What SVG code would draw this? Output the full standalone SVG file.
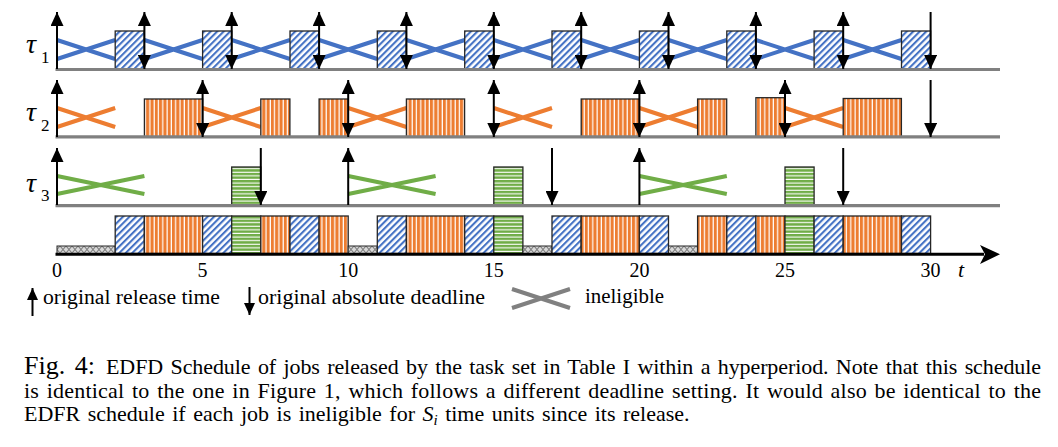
<svg xmlns="http://www.w3.org/2000/svg" width="1058" height="447" viewBox="0 0 1058 447">
<defs>
<pattern id="pBlue" patternUnits="userSpaceOnUse" width="4.6" height="4.6" patternTransform="rotate(45)">
<rect width="4.6" height="4.6" fill="#fff"/><rect width="2.1" height="4.6" fill="#4472C4"/>
</pattern>
<pattern id="pOrange" patternUnits="userSpaceOnUse" width="4.3" height="10">
<rect width="4.3" height="10" fill="#ED7D31"/><rect x="3.1" width="1.2" height="10" fill="#fff"/>
</pattern>
<pattern id="pGreen" patternUnits="userSpaceOnUse" width="10" height="3.6">
<rect width="10" height="3.6" fill="#70AD47"/><rect y="2.5" width="10" height="1.1" fill="#fff"/>
</pattern>
<pattern id="pIdle" patternUnits="userSpaceOnUse" width="6" height="7" x="0" y="246">
<rect width="6" height="7" fill="#d9d9d9"/><path d="M0,0 L6,7 M0,7 L6,0" stroke="#7f7f7f" stroke-width="1.1"/>
</pattern>
<marker id="ah" markerUnits="userSpaceOnUse" markerWidth="14" markerHeight="13" refX="14" refY="6.5" orient="auto-start-reverse">
<path d="M0,0 L14,6.5 L0,13 z" fill="#000"/>
</marker>
<marker id="ahs" markerUnits="userSpaceOnUse" markerWidth="12" markerHeight="11" refX="12" refY="5.5" orient="auto-start-reverse">
<path d="M0,0 L12,5.5 L0,11 z" fill="#000"/>
</marker>
</defs>
<style>
.b{fill:url(#pBlue);stroke:#262626;stroke-width:1.3}
.o{fill:url(#pOrange);stroke:#262626;stroke-width:1.3}
.g{fill:url(#pGreen);stroke:#262626;stroke-width:1.3}
.i{fill:url(#pIdle);stroke:#262626;stroke-width:1}
.xb{stroke:#4472C4;stroke-width:4;fill:none}
.xo{stroke:#ED7D31;stroke-width:4;fill:none}
.xg{stroke:#70AD47;stroke-width:4;fill:none}
.base{stroke:#808080;stroke-width:3.2}
.up{stroke:#000;stroke-width:2;marker-end:url(#ah)}
.dn{stroke:#000;stroke-width:2;marker-end:url(#ah)}
.both{stroke:#000;stroke-width:2;marker-start:url(#ah);marker-end:url(#ah)}
text{font-family:'Liberation Serif','Times New Roman',serif;fill:#000}
.lbl{font-style:italic}
.tick{font-size:20px;text-anchor:middle}
.leg{font-size:20px}
.cap{font-size:22px;word-spacing:2px}
</style>

<g id="tau1">
<text class="lbl" x="26" y="53" font-size="28">τ</text><text x="41" y="63" font-size="17">1</text>
<g id="tau1-ineligible">
<path class="xb" d="M57,40 L115.2,59 M57,59 L115.2,40"/>
<path class="xb" d="M144.4,40 L202.6,59 M144.4,59 L202.6,40"/>
<path class="xb" d="M231.7,40 L290,59 M231.7,59 L290,40"/>
<path class="xb" d="M319.1,40 L377.3,59 M319.1,59 L377.3,40"/>
<path class="xb" d="M406.4,40 L464.7,59 M406.4,59 L464.7,40"/>
<path class="xb" d="M493.8,40 L552,59 M493.8,59 L552,40"/>
<path class="xb" d="M581.2,40 L639.4,59 M581.2,59 L639.4,40"/>
<path class="xb" d="M668.5,40 L726.8,59 M668.5,59 L726.8,40"/>
<path class="xb" d="M755.9,40 L814.1,59 M755.9,59 L814.1,40"/>
<path class="xb" d="M843.2,40 L901.5,59 M843.2,59 L901.5,40"/>
</g>
<g id="tau1-jobs">
<rect class="b" x="115.2" y="31" width="29.1" height="38"/>
<rect class="b" x="202.6" y="31" width="29.1" height="38"/>
<rect class="b" x="290" y="31" width="29.1" height="38"/>
<rect class="b" x="377.3" y="31" width="29.1" height="38"/>
<rect class="b" x="464.7" y="31" width="29.1" height="38"/>
<rect class="b" x="552" y="31" width="29.1" height="38"/>
<rect class="b" x="639.4" y="31" width="29.1" height="38"/>
<rect class="b" x="726.8" y="31" width="29.1" height="38"/>
<rect class="b" x="814.1" y="31" width="29.1" height="38"/>
<rect class="b" x="901.5" y="31" width="29.1" height="38"/>
</g>
<line class="base" x1="55.5" y1="69.5" x2="1000" y2="69.5"/>
</g>

<g id="tau2">
<text class="lbl" x="26" y="121" font-size="28">τ</text><text x="41" y="131" font-size="17">2</text>
<g id="tau2-ineligible">
<path class="xo" d="M57,108 L115.2,127 M57,127 L115.2,108"/>
<path class="xo" d="M202.6,108 L260.8,127 M202.6,127 L260.8,108"/>
<path class="xo" d="M348.2,108 L406.4,127 M348.2,127 L406.4,108"/>
<path class="xo" d="M493.8,108 L552,127 M493.8,127 L552,108"/>
<path class="xo" d="M639.4,108 L697.6,127 M639.4,127 L697.6,108"/>
<path class="xo" d="M785,108 L843.2,127 M785,127 L843.2,108"/>
</g>
<g id="tau2-jobs">
<rect class="o" x="144.4" y="99" width="58.2" height="38"/>
<rect class="o" x="260.8" y="99" width="29.1" height="38"/>
<rect class="o" x="319.1" y="99" width="29.1" height="38"/>
<rect class="o" x="406.4" y="99" width="58.2" height="38"/>
<rect class="o" x="581.2" y="99" width="58.2" height="38"/>
<rect class="o" x="697.6" y="99" width="29.1" height="38"/>
<rect class="o" x="755.9" y="97.7" width="29.1" height="39.3"/>
<rect class="o" x="843.2" y="98.5" width="58.2" height="38.5"/>
</g>
<line class="base" x1="55.5" y1="136.8" x2="1000" y2="136.8"/>
</g>

<g id="tau3">
<text class="lbl" x="26" y="192" font-size="28">τ</text><text x="41" y="201" font-size="17">3</text>
<g id="tau3-ineligible">
<path class="xg" d="M57,176 L144.4,194 M57,194 L144.4,176"/>
<path class="xg" d="M348.2,176 L435.6,194 M348.2,194 L435.6,176"/>
<path class="xg" d="M639.4,176 L726.8,194 M639.4,194 L726.8,176"/>
</g>
<g id="tau3-jobs">
<rect class="g" x="231.7" y="167" width="29.1" height="38.5"/>
<rect class="g" x="493.8" y="167" width="29.1" height="38.5"/>
<rect class="g" x="785" y="167" width="29.1" height="38.5"/>
</g>
<line class="base" x1="55.5" y1="205.6" x2="1000" y2="205.6"/>
</g>

<g id="schedule">
<rect class="i" x="57" y="246" width="58.2" height="7.5"/>
<rect class="b" x="115.2" y="216" width="29.1" height="37.5"/>
<rect class="o" x="144.4" y="216" width="58.2" height="37.5"/>
<rect class="b" x="202.6" y="216" width="29.1" height="37.5"/>
<rect class="g" x="231.7" y="216" width="29.1" height="37.5"/>
<rect class="o" x="260.8" y="216" width="29.1" height="37.5"/>
<rect class="b" x="290" y="216" width="29.1" height="37.5"/>
<rect class="o" x="319.1" y="216" width="29.1" height="37.5"/>
<rect class="i" x="348.2" y="246" width="29.1" height="7.5"/>
<rect class="b" x="377.3" y="216" width="29.1" height="37.5"/>
<rect class="o" x="406.4" y="216" width="58.2" height="37.5"/>
<rect class="b" x="464.7" y="216" width="29.1" height="37.5"/>
<rect class="g" x="493.8" y="216" width="29.1" height="37.5"/>
<rect class="i" x="522.9" y="246" width="29.1" height="7.5"/>
<rect class="b" x="552" y="216" width="29.1" height="37.5"/>
<rect class="o" x="581.2" y="216" width="58.2" height="37.5"/>
<rect class="b" x="639.4" y="216" width="29.1" height="37.5"/>
<rect class="i" x="668.5" y="246" width="29.1" height="7.5"/>
<rect class="o" x="697.6" y="216" width="29.1" height="37.5"/>
<rect class="b" x="726.8" y="216" width="29.1" height="37.5"/>
<rect class="o" x="755.9" y="216" width="29.1" height="37.5"/>
<rect class="g" x="785" y="216" width="29.1" height="37.5"/>
<rect class="b" x="814.1" y="216" width="29.1" height="37.5"/>
<rect class="o" x="843.2" y="216" width="58.2" height="37.5"/>
<rect class="b" x="901.5" y="216" width="29.1" height="37.5"/>
</g>

<g id="axis">
<line x1="55.5" y1="254.3" x2="984" y2="254.3" stroke="#000" stroke-width="3"/>
<path d="M1000,254.3 L980,245 L985,254.3 L980,264 z" fill="#000"/>
<text class="tick" x="57" y="277">0</text>
<text class="tick" x="202.6" y="277">5</text>
<text class="tick" x="348.2" y="277">10</text>
<text class="tick" x="493.8" y="277">15</text>
<text class="tick" x="639.4" y="277">20</text>
<text class="tick" x="785" y="277">25</text>
<text class="tick" x="930.6" y="277">30</text>
<text class="lbl" x="958" y="277" font-size="22">t</text>
</g>

<g id="connectors">
<g id="tau1-arrows">
<line class="up" x1="57" y1="69" x2="57" y2="12"/>
<line class="both" x1="144.4" y1="69" x2="144.4" y2="12"/>
<line class="both" x1="231.7" y1="69" x2="231.7" y2="12"/>
<line class="both" x1="319.1" y1="69" x2="319.1" y2="12"/>
<line class="both" x1="406.4" y1="69" x2="406.4" y2="12"/>
<line class="both" x1="493.8" y1="69" x2="493.8" y2="12"/>
<line class="both" x1="581.2" y1="69" x2="581.2" y2="12"/>
<line class="both" x1="668.5" y1="69" x2="668.5" y2="12"/>
<line class="both" x1="755.9" y1="69" x2="755.9" y2="12"/>
<line class="both" x1="843.2" y1="69" x2="843.2" y2="12"/>
<line class="dn" x1="930.6" y1="12" x2="930.6" y2="69"/>
</g>
<g id="tau2-arrows">
<line class="up" x1="57" y1="137" x2="57" y2="80"/>
<line class="both" x1="202.6" y1="137" x2="202.6" y2="80"/>
<line class="both" x1="348.2" y1="137" x2="348.2" y2="80"/>
<line class="both" x1="493.8" y1="137" x2="493.8" y2="80"/>
<line class="both" x1="639.4" y1="137" x2="639.4" y2="80"/>
<line class="both" x1="785" y1="137" x2="785" y2="80"/>
<line class="dn" x1="930.6" y1="80" x2="930.6" y2="137"/>
</g>
<g id="tau3-arrows">
<line class="up" x1="57" y1="205" x2="57" y2="148"/>
<line class="up" x1="348.2" y1="205" x2="348.2" y2="148"/>
<line class="up" x1="639.4" y1="205" x2="639.4" y2="148"/>
<line class="dn" x1="260.8" y1="148" x2="260.8" y2="205"/>
<line class="dn" x1="552" y1="148" x2="552" y2="205"/>
<line class="dn" x1="843.2" y1="148" x2="843.2" y2="205"/>
</g>
</g>

<g id="legend">
<line x1="32.5" y1="316" x2="32.5" y2="288" stroke="#000" stroke-width="2" marker-end="url(#ahs)"/>
<text class="leg" x="43" y="304" textLength="177" lengthAdjust="spacingAndGlyphs">original release time</text>
<line x1="249.5" y1="287" x2="249.5" y2="315" stroke="#000" stroke-width="2" marker-end="url(#ahs)"/>
<text class="leg" x="258" y="304" textLength="227" lengthAdjust="spacingAndGlyphs">original absolute deadline</text>
<path d="M512,289 L570,308 M512,308 L570,289" stroke="#808080" stroke-width="4" fill="none"/>
<text class="leg" x="585" y="303" textLength="79" lengthAdjust="spacingAndGlyphs">ineligible</text>
</g>

<g id="caption">
<text x="24" y="373.5" font-size="26" word-spacing="3">Fig. 4:</text>
<text class="cap" x="106" y="373.5" textLength="935" lengthAdjust="spacing">EDFD Schedule of jobs released by the task set in Table I within a hyperperiod. Note that this schedule</text>
<text class="cap" x="24" y="397.5" textLength="1017" lengthAdjust="spacing">is identical to the one in Figure 1, which follows a different deadline setting. It would also be identical to the</text>
<text class="cap" x="24" y="420.5" word-spacing="4">EDFR schedule if each job is ineligible for <tspan font-style="italic">S</tspan><tspan font-style="italic" font-size="15" dy="4">i</tspan><tspan dy="-4"> time units since its release.</tspan></text>
</g>
</svg>
